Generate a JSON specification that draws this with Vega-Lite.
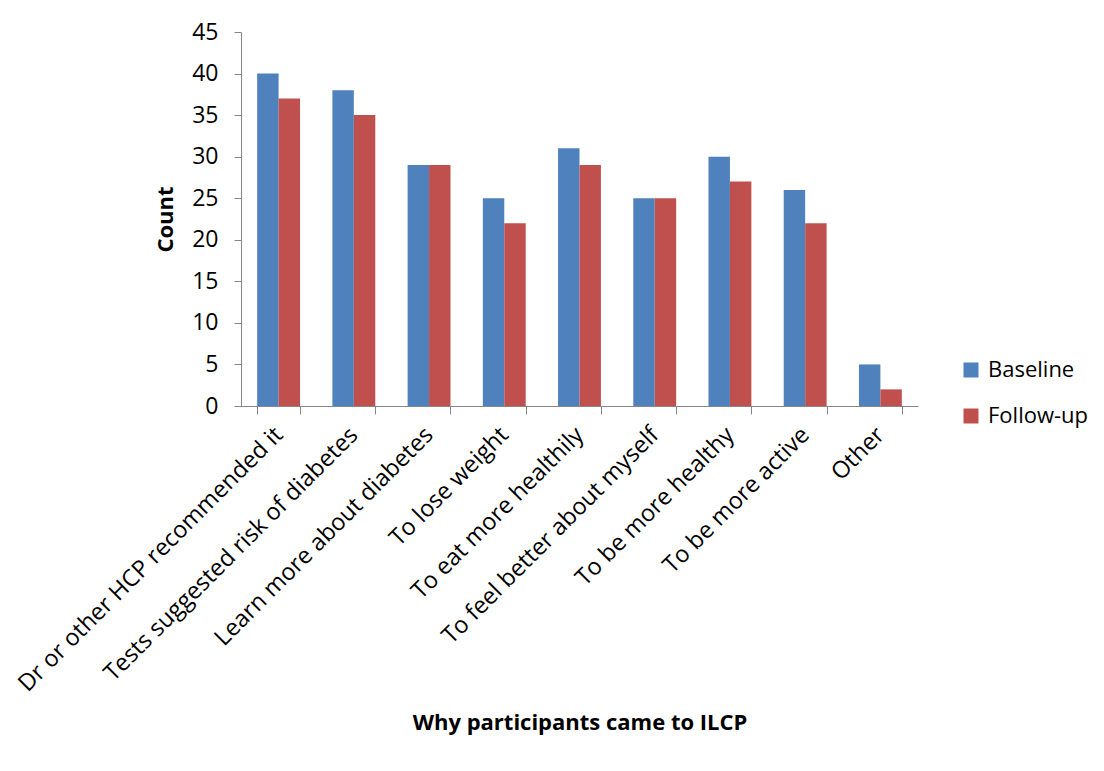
{
  "$schema": "https://vega.github.io/schema/vega-lite/v6.json",
  "width": 677,
  "height": 374,
  "autosize": {"type": "none"},
  "padding": {"left": 241, "top": 32, "right": 186, "bottom": 365},
  "background": "white",
  "config": {
    "view": {"stroke": null},
    "font": "Open Sans",
    "axis": {"domainColor": "#868686", "tickColor": "#868686", "labelColor": "black", "titleColor": "black", "grid": false}
  },
  "data": {
    "values": [
      {"reason": "Dr or other HCP recommended it", "series": "Baseline", "count": 40},
      {"reason": "Dr or other HCP recommended it", "series": "Follow-up", "count": 37},
      {"reason": "Tests suggested risk of diabetes", "series": "Baseline", "count": 38},
      {"reason": "Tests suggested risk of diabetes", "series": "Follow-up", "count": 35},
      {"reason": "Learn more about diabetes", "series": "Baseline", "count": 29},
      {"reason": "Learn more about diabetes", "series": "Follow-up", "count": 29},
      {"reason": "To lose weight", "series": "Baseline", "count": 25},
      {"reason": "To lose weight", "series": "Follow-up", "count": 22},
      {"reason": "To eat more healthily", "series": "Baseline", "count": 31},
      {"reason": "To eat more healthily", "series": "Follow-up", "count": 29},
      {"reason": "To feel better about myself", "series": "Baseline", "count": 25},
      {"reason": "To feel better about myself", "series": "Follow-up", "count": 25},
      {"reason": "To be more healthy", "series": "Baseline", "count": 30},
      {"reason": "To be more healthy", "series": "Follow-up", "count": 27},
      {"reason": "To be more active", "series": "Baseline", "count": 26},
      {"reason": "To be more active", "series": "Follow-up", "count": 22},
      {"reason": "Other", "series": "Baseline", "count": 5},
      {"reason": "Other", "series": "Follow-up", "count": 2}
    ]
  },
  "mark": {"type": "bar"},
  "encoding": {
    "x": {
      "field": "reason",
      "type": "nominal",
      "sort": null,
      "scale": {"paddingInner": 0.43, "paddingOuter": 0.215},
      "axis": {
        "title": "Why participants came to ILCP",
        "titleFontSize": 22,
        "titleFontWeight": "bold",
        "titleY": 306,
        "titleBaseline": "top",
        "labelAngle": -45,
        "labelAlign": "right",
        "labelBaseline": "middle",
        "labelFontSize": 23.5,
        "labelPadding": 17,
        "labelLimit": 500,
        "tickBand": "extent",
        "tickSize": 8
      }
    },
    "xOffset": {"field": "series", "type": "nominal", "scale": {"paddingInner": 0}},
    "y": {
      "field": "count",
      "type": "quantitative",
      "scale": {"domain": [0, 45]},
      "axis": {
        "title": "Count",
        "titleFontSize": 22,
        "titleFontWeight": "bold",
        "titleX": -76,
        "titleY": 187,
        "titleAlign": "center",
        "titleBaseline": "middle",
        "titleAngle": -90,
        "values": [0, 5, 10, 15, 20, 25, 30, 35, 40, 45],
        "labelFontSize": 23,
        "labelPadding": 16,
        "tickSize": 7
      }
    },
    "color": {
      "field": "series",
      "type": "nominal",
      "scale": {"domain": ["Baseline", "Follow-up"], "range": ["#4F81BD", "#C0504D"]},
      "legend": {
        "title": null,
        "orient": "none",
        "legendX": 719,
        "legendY": 327,
        "symbolType": "square",
        "symbolSize": 225,
        "symbolStrokeWidth": 0,
        "labelFontSize": 22,
        "labelOffset": 6,
        "rowPadding": 24,
        "labelColor": "black"
      }
    }
  }
}
